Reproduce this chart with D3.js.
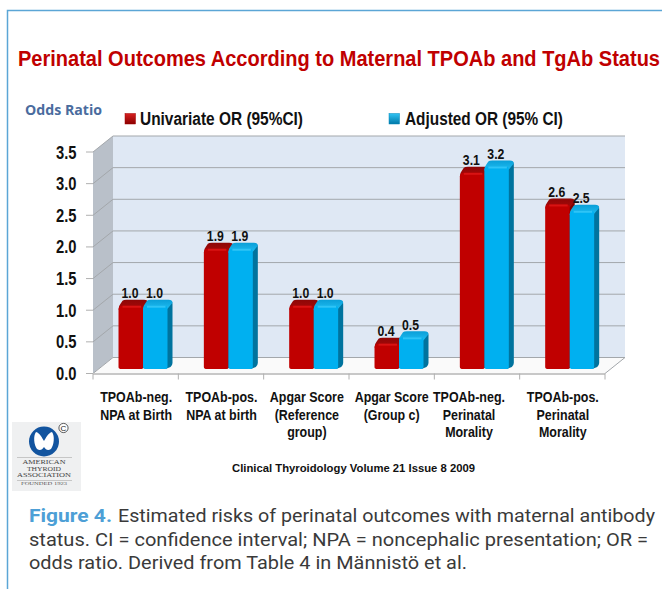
<!DOCTYPE html>
<html><head><meta charset="utf-8">
<script src="https://cdn.jsdelivr.net/npm/d3@7/dist/d3.min.js"></script>
<style>html,body{margin:0;padding:0;background:#fff;overflow:hidden}svg{display:block}</style>
</head><body><svg id="c" width="662" height="589"></svg>
<script>
const categories = [
  ["TPOAb-neg.","NPA at Birth"],
  ["TPOAb-pos.","NPA at birth"],
  ["Apgar Score","(Reference","group)"],
  ["Apgar Score","(Group c)"],
  ["TPOAb-neg.","Perinatal","Morality"],
  ["TPOAb-pos.","Perinatal","Morality"]
];
const univariate = [1.0,1.9,1.0,0.4,3.1,2.6];
const adjusted = [1.0,1.9,1.0,0.5,3.2,2.5];
const yTicks = [0,0.5,1,1.5,2,2.5,3,3.5];
const seriesNames = ["Univariate OR (95%CI)","Adjusted OR (95% CI)"];

const svg = d3.select("#c");
const sans = "'Liberation Sans',Arial,sans-serif";
const x = d3.scaleBand().domain(d3.range(categories.length)).range([93,605]);
const y = d3.scaleLinear().domain([0,3.5]).range([373.5,152]);
const depthX = 20, depthY = 16;

function text(s,px,py,size,opt={}){
  const t = svg.append("text").attr("x",px).attr("y",py).text(s)
    .attr("font-family",opt.family||sans).attr("font-size",size)
    .attr("font-weight",opt.weight||"bold").attr("fill",opt.fill||"#111")
    .attr("text-anchor",opt.anchor||"start");
  if(opt.squeeze) opt.len = t.node().getComputedTextLength()*opt.squeeze;
  if(opt.len) t.attr("textLength",opt.len).attr("lengthAdjust","spacingAndGlyphs");
  return t;
}
const defs = svg.append("defs");
function grad(id,stops){
  const g = defs.append("linearGradient").attr("id",id).attr("x1",0).attr("y1",0).attr("x2",0).attr("y2",1);
  stops.forEach(([o,c])=>g.append("stop").attr("offset",o).attr("stop-color",c));
}
grad("capR",[[0,"#8e0606"],[1,"#a80a0a"]]);
grad("capB",[[0,"#0a9fd8"],[1,"#20bdf2"]]);
grad("swR",[[0,"#d82020"],[1,"#8a0000"]]);
grad("swB",[[0,"#30c4f4"],[1,"#0078a8"]]);

// frame
svg.append("path").attr("d","M662,10.5H7.5V589").attr("fill","none").attr("stroke","#5ba6d6").attr("stroke-width",1.5);

// title
text("Perinatal Outcomes According to Maternal TPOAb and TgAb Status",18,66,22.5,{fill:"#c00000",len:642});
text("Odds Ratio",25,115,14.5,{fill:"#4a6c9e",family:"'Open Sans',sans-serif",len:77});

// legend
[[125,"url(#swR)","#a00000",140,163],[389,"url(#swB)","#0088bb",405,158]].forEach((l,i)=>{
  svg.append("rect").attr("x",l[0]).attr("y",113.5).attr("width",10.5).attr("height",10.5).attr("fill",l[1]).attr("stroke",l[2]).attr("stroke-width",.5);
  text(seriesNames[i],l[3],125,18,{len:l[4]});
});

// walls
const xL = x.range()[0], xR = x.range()[1], y0 = y(0), yT = y(3.5);
svg.append("path").attr("d",`M${xL},${y0}L${xL},${yT}L${xL+depthX},${yT-depthY}L${xL+depthX},${y0-depthY}Z`).attr("fill","#b9c0c9");
svg.append("rect").attr("x",xL+depthX).attr("y",yT-depthY).attr("width",xR-xL).attr("height",y0-yT).attr("fill","#dfe8f4");
svg.append("path").attr("d",`M${xL},${y0}L${xL+depthX},${y0-depthY}L${xR+depthX},${y0-depthY}L${xR},${y0}Z`).attr("fill","#fafafa");

// gridlines
svg.append("g").selectAll("path").data(yTicks).join("path")
  .attr("d",v=>`M${xL},${y(v)}L${xL+depthX},${y(v)-depthY}L${xR+depthX},${y(v)-depthY}`)
  .attr("fill","none").attr("stroke","#a3a7ab").attr("stroke-width",1);
svg.append("path").attr("d",`M${xR},${y0}L${xR+depthX},${y0-depthY}`).attr("fill","none").attr("stroke","#a3a7ab");

// axes
svg.append("g").selectAll("line").data(yTicks).join("line")
  .attr("x1",xL-7).attr("x2",xL).attr("y1",v=>y(v)).attr("y2",v=>y(v)).attr("stroke","#b0b0b0");
svg.append("line").attr("x1",xL).attr("x2",xR).attr("y1",y0+.5).attr("y2",y0+.5).attr("stroke","#c8c8c8").attr("stroke-width",2);
svg.append("g").selectAll("line").data(d3.range(categories.length+1)).join("line")
  .attr("x1",i=>xL+i*x.step()).attr("x2",i=>xL+i*x.step()).attr("y1",y0).attr("y2",y0+6).attr("stroke","#b0b0b0");
yTicks.forEach(v=>text(d3.format(".1f")(v),56,y(v)+6.5,18,{len:20.5}));

// bars
const barW = x.bandwidth()*0.287, barInset = x.bandwidth()*0.299, bdx = 5, bdy = 6, floorLift = 4.5;
function bar(left,v,col){
  const top = y(v)-floorLift, base = y0-floorLift, r = left+barW, g = svg.append("g");
  g.append("path").attr("d",`M${r-1},${top}L${r+bdx-3},${top-bdy+1}Q${r+bdx},${top-bdy+1} ${r+bdx},${top-bdy+4}V${base-bdy}Q${r+bdx},${base-bdy+2} ${r+bdx-2},${base-2}L${r-2},${base}Z`).attr("fill",col.side);
  g.append("path").attr("d",`M${left},${top+4}Q${left},${top} ${left+2},${top-2}L${left+4},${top-bdy+1}Q${left+5},${top-bdy} ${left+8},${top-bdy}H${r+bdx-4}Q${r+bdx},${top-bdy} ${r+bdx},${top-bdy+3}L${r},${top+3}Z`).attr("fill",col.cap);
  g.append("path").attr("d",`M${left},${top+4}Q${left},${top} ${left+4},${top}H${r-3}Q${r},${top} ${r},${top+3}V${base-2}Q${r},${base} ${r-2},${base}H${left+3}Q${left},${base} ${left},${base-2}Z`).attr("fill",col.front);
  g.append("path").attr("d",`M${left+4},${top+1}H${r-2}`).attr("stroke",col.hi).attr("stroke-width",2).attr("opacity",.75);
}
const red = {front:"#c00000",side:"#7d0000",cap:"url(#capR)",hi:"#e21a1a"};
const blue = {front:"#00b0f0",side:"#00739e",cap:"url(#capB)",hi:"#3fcbf8"};
categories.forEach((c,i)=>{
  const left = x(i)+barInset;
  bar(left,univariate[i],red);
  bar(left+barW,adjusted[i],blue);
  text(d3.format(".1f")(univariate[i]),left+barW*0.47,y(univariate[i])-floorLift-bdy-1.5,15,{anchor:"middle",len:17});
  text(d3.format(".1f")(adjusted[i]),left+barW*1.47,y(adjusted[i])-floorLift-bdy-1.5,15,{anchor:"middle",len:17});
});

// category labels
categories.forEach((c,i)=>{
  const cx = x(i)+x.bandwidth()/2 + (i===4 ? -8.5 : 0) + (i===3 ? 0 : 0.5);
  c.forEach((line,j)=>text(line,cx,402+j*17.7,15,{anchor:"middle",squeeze:0.83}));
});

// source
text("Clinical Thyroidology  Volume 21 Issue 8 2009",232,472,11,{len:243});

// logo
svg.append("rect").attr("x",12).attr("y",422).attr("width",69).attr("height",69).attr("fill","#eff0f1");
svg.append("circle").attr("cx",44).attr("cy",441.5).attr("r",15).attr("fill","#12549f");
svg.append("path").attr("d","M44,441C42,438 40,433 36,432C33,436 34,445 37,449C40,451 42,450 44,447C46,450 48,451 51,449C54,445 55,436 52,432C48,433 46,438 44,441Z").attr("fill","#fff");
svg.append("circle").attr("cx",63.5).attr("cy",428).attr("r",4.6).attr("fill","#fff").attr("stroke","#333").attr("stroke-width",.8);
text("C",63.5,431,8,{anchor:"middle",weight:"normal",fill:"#222"});
svg.append("line").attr("x1",17).attr("x2",72).attr("y1",457.5).attr("y2",457.5).attr("stroke","#aaa").attr("stroke-width",.6);
svg.append("line").attr("x1",17).attr("x2",72).attr("y1",480.5).attr("y2",480.5).attr("stroke","#aaa").attr("stroke-width",.6);
const serif = "'Liberation Serif',serif";
text("AMERICAN",44,464,6,{anchor:"middle",weight:"normal",family:serif,fill:"#444",len:43});
text("THYROID",44,470.5,6,{anchor:"middle",weight:"normal",family:serif,fill:"#444",len:34});
text("ASSOCIATION",44,477,6,{anchor:"middle",weight:"normal",family:serif,fill:"#444",len:54});
text("FOUNDED 1923",44,485,4,{anchor:"middle",weight:"normal",family:serif,fill:"#555",len:46});

// caption
const body = "Roboto,sans-serif";
text("Figure 4.",29,522,19,{fill:"#4d9fd6",family:body,len:83});
text("Estimated risks of perinatal outcomes with maternal antibody",118,522,18.5,{fill:"#3a3a3a",family:body,weight:"normal",len:537});
text("status. CI = confidence interval; NPA = noncephalic presentation; OR =",29,546,18.5,{fill:"#3a3a3a",family:body,weight:"normal",len:619});
text("odds ratio. Derived from Table 4 in Männistö et al.",29,569,18.5,{fill:"#3a3a3a",family:body,weight:"normal",len:438});
</script></body></html>
